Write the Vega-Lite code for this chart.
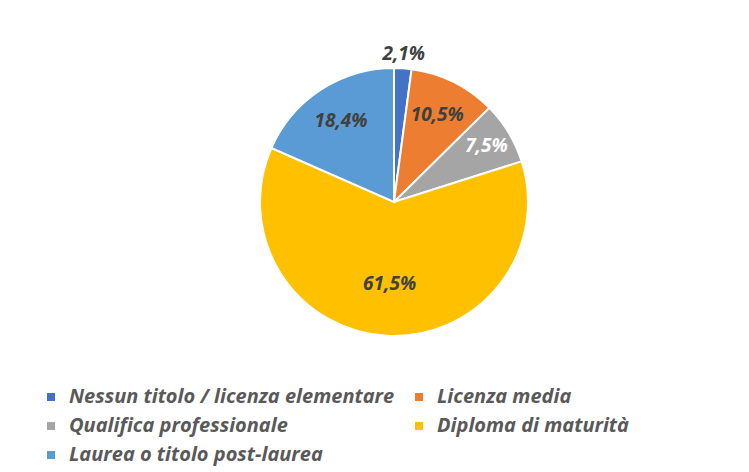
{
  "$schema": "https://vega.github.io/schema/vega-lite/v6.json",
  "width": 268,
  "height": 268,
  "autosize": {"type": "none"},
  "padding": {"left": 260, "top": 68, "right": 221, "bottom": 136},
  "background": "white",
  "config": {"view": {"stroke": null}},
  "data": {
    "values": [
      {"i": 1, "cat": "Nessun titolo / licenza elementare", "value": 2.1, "label": "2,1%"},
      {"i": 2, "cat": "Licenza media", "value": 10.5, "label": "10,5%"},
      {"i": 3, "cat": "Qualifica professionale", "value": 7.5, "label": "7,5%"},
      {"i": 4, "cat": "Diploma di maturità", "value": 61.5, "label": "61,5%"},
      {"i": 5, "cat": "Laurea o titolo post-laurea", "value": 18.4, "label": "18,4%"}
    ]
  },
  "encoding": {
    "theta": {"field": "value", "type": "quantitative", "stack": true},
    "order": {"field": "i", "type": "quantitative"}
  },
  "layer": [
    {
      "mark": {"type": "arc", "stroke": "white", "strokeWidth": 2},
      "encoding": {
        "color": {
          "field": "cat",
          "type": "nominal",
          "sort": ["Nessun titolo / licenza elementare", "Licenza media", "Qualifica professionale", "Diploma di maturità", "Laurea o titolo post-laurea"],
          "scale": {
            "domain": ["Nessun titolo / licenza elementare", "Licenza media", "Qualifica professionale", "Diploma di maturità", "Laurea o titolo post-laurea"],
            "range": ["#4472C4", "#ED7D31", "#A5A5A5", "#FFC000", "#5B9BD5"]
          },
          "legend": {
            "title": null,
            "orient": "none",
            "legendX": -219,
            "legendY": 319,
            "columns": 2,
            "direction": "horizontal",
            "columnPadding": 14,
            "rowPadding": 9,
            "symbolType": "square",
            "symbolSize": 64,
            "symbolStrokeWidth": 0,
            "symbolOffset": 0,
            "labelOffset": 8,
            "labelFont": "Open Sans",
            "labelFontStyle": "italic",
            "labelFontWeight": "bold",
            "labelFontSize": 20,
            "labelColor": "#595959",
            "labelLimit": 0
          }
        }
      }
    },
    {
      "mark": {"type": "text", "radius": {"expr": "datum.value < 5 ? 148 : (datum.value > 50 ? 82 : (datum.value < 9 ? 108 : 97))"}, "font": "Open Sans", "fontStyle": "italic", "fontWeight": "bold", "fontSize": 19},
      "encoding": {
        "text": {"field": "label"},
        "color": {
          "condition": {"test": "datum.cat === 'Qualifica professionale'", "value": "#FFFFFF"},
          "value": "#404040"
        }
      }
    }
  ]
}
